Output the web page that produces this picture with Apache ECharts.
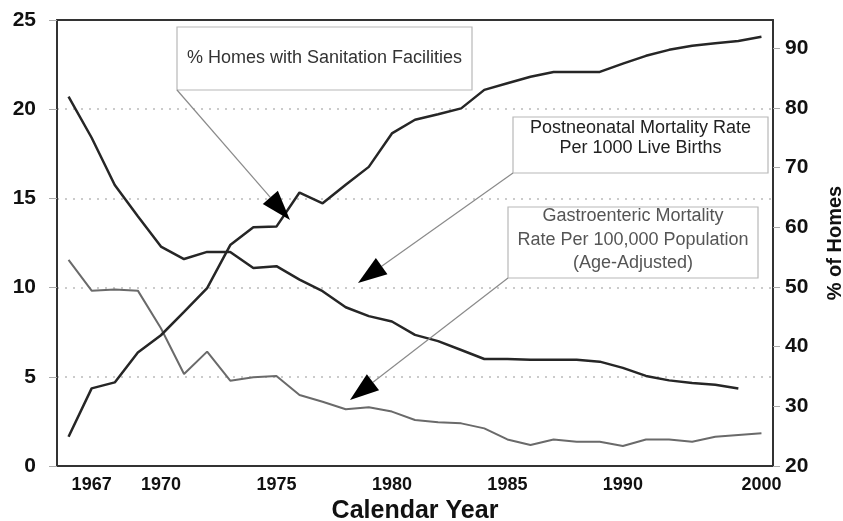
<!DOCTYPE html>
<html><head><meta charset="utf-8">
<script src="https://cdn.jsdelivr.net/npm/echarts@6/dist/echarts.min.js"></script>
<style>html,body{margin:0;padding:0;background:#fff}#c{width:843px;height:521px}</style>
</head><body><div id="c"></div>
<script>
const years = ['1966','1967','1968','1969','1970','1971','1972','1973','1974','1975','1976','1977','1978','1979','1980','1981','1982','1983','1984','1985','1986','1987','1988','1989','1990','1991','1992','1993','1994','1995','2000'];
const xLabelsShown = ['1967','1970','1975','1980','1985','1990','2000'];
const postneonatal = [20.7,18.4,15.75,14.0,12.3,11.6,12.0,12.0,11.1,11.2,10.45,9.8,8.9,8.4,8.1,7.35,7.0,6.5,6.0,6.0,5.95,5.95,5.95,5.85,5.5,5.05,4.8,4.65,4.55,4.35,null];
const gastroenteric = [11.55,9.83,9.9,9.83,7.72,5.16,6.41,4.78,4.97,5.04,3.98,3.6,3.18,3.29,3.05,2.58,2.45,2.39,2.11,1.49,1.18,1.49,1.36,1.36,1.12,1.49,1.49,1.36,1.64,1.74,1.83];
const sanitation = [24.9,33.0,34.0,39.0,41.9,45.8,49.8,57.0,60.0,60.1,65.8,64.0,67.1,70.1,75.7,78.0,78.9,79.9,83.0,84.1,85.2,86.0,86.0,86.0,87.4,88.7,89.7,90.4,90.8,91.2,91.9];
const boxSanitation = ['% Homes with Sanitation Facilities'];
const boxPostneonatal = ['Postneonatal Mortality Rate','Per 1000 Live Births'];
const boxGastro = ['Gastroenteric Mortality','Rate Per 100,000 Population','(Age-Adjusted)'];

const FONT = 'Liberation Sans, Arial, Helvetica, sans-serif';
const chart = echarts.init(document.getElementById('c'));

function arrow(sx, sy, tx, ty, len, hw) {
  const dx = tx - sx, dy = ty - sy, d = Math.hypot(dx, dy);
  const ux = dx / d, uy = dy / d;
  const bx = tx - ux * len, by = ty - uy * len;
  return [
    {type:'line', z:10, shape:{x1:sx,y1:sy,x2:bx,y2:by}, style:{stroke:'#8a8a8a', lineWidth:1.2}},
    {type:'polygon', z:11, shape:{points:[[tx,ty],[bx - uy*hw, by + ux*hw],[bx + uy*hw, by - ux*hw]]}, style:{fill:'#000'}}
  ];
}
function box(x, y, w, h, lines, cy, lh, color, size) {
  return [
    {type:'rect', z:9, shape:{x:x,y:y,width:w,height:h}, style:{fill:'#fff', stroke:'#b8b8b8', lineWidth:1.2}},
    {type:'text', z:12, style:{text:lines.join('\n'), x:x + w/2, y:cy, align:'center', verticalAlign:'middle', textAlign:'center', textVerticalAlign:'middle', fill:color, fontSize:size, fontFamily:FONT, lineHeight:lh}}
  ];
}

const graphics = [].concat(
  box(177, 27, 295, 63, boxSanitation, 58, 20, '#333', 18),
  box(513, 117, 255, 56, boxPostneonatal, 138, 20, '#222', 18),
  box(508, 207, 250, 71, boxGastro, 240, 23.5, '#555', 18),
  arrow(177, 90, 290, 220, 30, 10),
  arrow(513, 173, 358, 283, 29, 10),
  arrow(508, 278, 350, 400, 29, 10)
);

chart.setOption({
  animation: false,
  backgroundColor: '#fff',
  grid: {left:57, right:70, top:20, bottom:55, outerBoundsMode:'none', containLabel:false},
  xAxis: [{
    type:'category', data: years, boundaryGap: true,
    name:'Calendar Year', nameLocation:'middle', nameGap:29,
    nameTextStyle:{fontSize:25, fontWeight:'bold', color:'#111', fontFamily:FONT},
    axisLine:{lineStyle:{color:'#333', width:2}},
    axisTick:{alignWithLabel:true, interval:0, length:6, lineStyle:{color:'#999'}},
    axisLabel:{interval:(i, v) => xLabelsShown.includes(v), fontSize:18, fontWeight:'bold', color:'#111', fontFamily:FONT, margin:10},
    splitLine:{show:false}
  }, {
    type:'category', data: years, position:'top', boundaryGap:true,
    axisLine:{show:true, lineStyle:{color:'#333', width:2}},
    axisTick:{show:false}, axisLabel:{show:false}, splitLine:{show:false}
  }],
  yAxis: [
    {type:'value', min:0, max:25, interval:5, position:'left',
     axisLine:{show:true, lineStyle:{color:'#333', width:2}},
     axisTick:{show:true, length:8, lineStyle:{color:'#aaa'}},
     axisLabel:{fontSize:21, fontWeight:'bold', color:'#111', fontFamily:FONT, margin:21},
     splitLine:{show:true, lineStyle:{color:'#bbb', type:[2,6], width:1.5}}},
    {type:'value', min:20, max:94.7, interval:10, position:'right',
     name:'% of Homes', nameLocation:'middle', nameGap:52, nameRotate:90,
     nameTextStyle:{fontSize:20, fontWeight:'bold', color:'#111', fontFamily:FONT},
     axisLine:{show:true, lineStyle:{color:'#333', width:2}},
     axisTick:{show:true, length:7, lineStyle:{color:'#aaa'}},
     axisLabel:{fontSize:21, fontWeight:'bold', color:'#111', fontFamily:FONT, margin:12, showMaxLabel:false,
       formatter: v => (Math.abs(v % 10) < 1e-9 ? String(v) : '')},
     splitLine:{show:false}}
  ],
  series: [
    {name:'Postneonatal Mortality Rate', type:'line', yAxisIndex:0, data:postneonatal, symbol:'none', lineStyle:{color:'#262626', width:2.5}, z:3},
    {name:'Gastroenteric Mortality Rate', type:'line', yAxisIndex:0, data:gastroenteric, symbol:'none', lineStyle:{color:'#6a6a6a', width:2}, z:2},
    {name:'% Homes with Sanitation Facilities', type:'line', yAxisIndex:1, data:sanitation, symbol:'none', lineStyle:{color:'#262626', width:2.5}, z:3}
  ],
  graphic: graphics
});
</script>
</body></html>
